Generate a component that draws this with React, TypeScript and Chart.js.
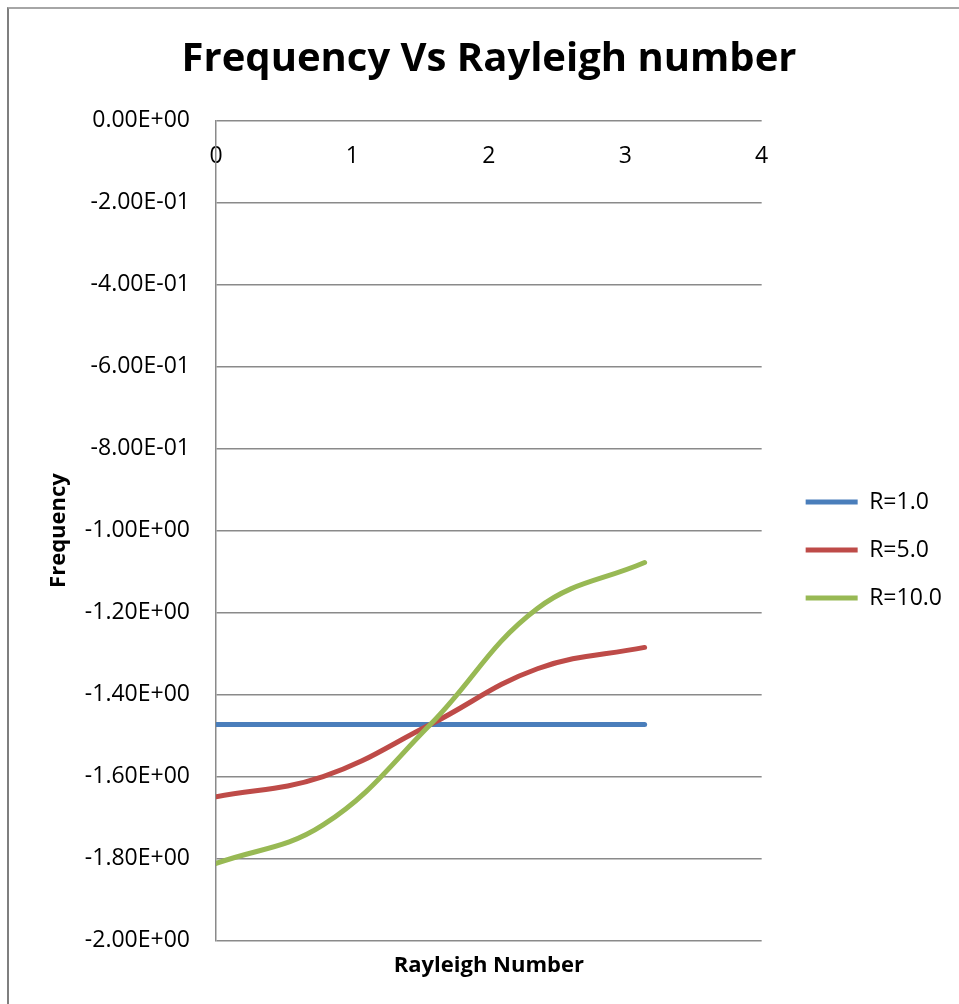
import React, { useEffect, useRef } from 'react';
import { Chart, registerables } from 'chart.js';

Chart.register(...registerables);

// ---- data ----
const rayleigh = [0, 0.785, 1.571, 2.356, 3.142];
const freqR1 = [-1.473, -1.473, -1.473, -1.473, -1.473];
const freqR5 = [-1.649, -1.6, -1.473, -1.337, -1.285];
const freqR10 = [-1.812, -1.718, -1.473, -1.19, -1.078];
const seriesLabels = ['R=1.0', 'R=5.0', 'R=10.0'];
const seriesColors = ['#4A7EBB', '#BE4B48', '#98B954'];
const yMin = -2;
const yMax = 0;
const yStep = 0.2;
const xMin = 0;
const xMax = 4;
const xStep = 1;

const FAMILY = '"Open Sans", "Noto Sans", sans-serif';

function fmtExp(v: number): string {
  if (Math.abs(v) < 1e-12) return '0.00E+00';
  const [m, e] = v.toExponential(2).split('e');
  const n = parseInt(e, 10);
  return `${m}E${n < 0 ? '-' : '+'}${String(Math.abs(n)).padStart(2, '0')}`;
}

export default function App() {
  const ref = useRef<HTMLCanvasElement>(null);

  useEffect(() => {
    const series = [freqR1, freqR5, freqR10];
    const chart = new Chart(ref.current!, {
      type: 'line',
      data: {
        datasets: series.map((s, i) => ({
          label: seriesLabels[i],
          data: rayleigh.map((x, j) => ({ x, y: s[j] })),
          borderColor: seriesColors[i],
          backgroundColor: seriesColors[i],
          borderWidth: 5,
          borderCapStyle: 'round',
          borderJoinStyle: 'round',
          pointRadius: 0,
          pointHoverRadius: 0,
          tension: 0.4,
          fill: false,
          order: 3 - i,
        })),
      },
      options: {
        responsive: false,
        animation: false,
        events: [],
        layout: { padding: { left: 26, right: 7, top: 0, bottom: 0 } },
        scales: {
          x: {
            type: 'linear',
            min: xMin,
            max: xMax,
            position: { y: 0 } as any,
            ticks: {
              stepSize: xStep,
              padding: 22,
              color: '#000',
              font: { family: FAMILY, size: 23 },
            },
            grid: { display: false, drawTicks: false },
            border: { display: false },
          },
          y: {
            type: 'linear',
            min: yMin,
            max: yMax,
            ticks: {
              stepSize: yStep,
              padding: 26,
              color: '#000',
              font: { family: FAMILY, size: 23 },
              callback: (v: any) => fmtExp(Number(v)),
            },
            grid: { color: '#8a8a8a', lineWidth: 1.5, drawTicks: false },
            border: { color: '#8a8a8a', width: 1.5 },
            title: {
              display: true,
              text: 'Frequency',
              color: '#000',
              font: { family: FAMILY, size: 22, weight: 'bold' },
              padding: { top: 19.5, bottom: 0 },
            },
            afterFit: (s: any) => {
              s.width = 190;
            },
          },
          pad: {
            type: 'linear',
            position: 'right',
            display: false,
            afterFit: (s: any) => {
              s.width = 19;
            },
          },
        },
        plugins: {
          tooltip: { enabled: false },
          title: {
            display: true,
            text: 'Frequency Vs Rayleigh number',
            color: '#000',
            font: { family: FAMILY, size: 40, weight: 'bold' },
            padding: { top: 36, bottom: 36.5 },
          },
          subtitle: {
            display: true,
            fullSize: false,
            position: 'bottom',
            text: 'Rayleigh Number',
            color: '#000',
            font: { family: FAMILY, size: 22, weight: 'bold' },
            padding: { top: 12, bottom: 25 },
          },
          legend: {
            position: 'right',
            align: 'center',
            fullSize: false,
            title: {
              display: true,
              text: ' ',
              font: { size: 10 },
              padding: { top: 27, bottom: 0 },
            },
            labels: {
              usePointStyle: true,
              pointStyle: 'line',
              pointStyleWidth: 52,
              boxHeight: 5,
              padding: 25,
              color: '#000',
              font: { family: FAMILY, size: 23 },
              sort: (a: any, b: any) => a.datasetIndex - b.datasetIndex,
            },
          },
        },
      } as any,
    });
    return () => chart.destroy();
  }, []);

  return (
    <div
      style={{
        position: 'relative',
        width: 959,
        height: 1004,
        overflow: 'hidden',
        background: '#fff',
      }}
    >
      <style>{'body{margin:0}'}</style>
      <div
        style={{
          position: 'absolute',
          left: 7,
          top: 7,
          width: 1000,
          height: 1100,
          borderLeft: '2px solid #7f7f7f',
          borderTop: '2px solid #a6a6a6',
        }}
      />
      <canvas
        ref={ref}
        width={959}
        height={1004}
        style={{ position: 'absolute', left: 0, top: 0 }}
      />
    </div>
  );
}
